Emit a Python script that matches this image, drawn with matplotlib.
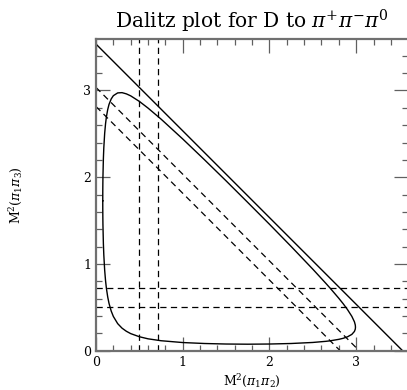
import numpy as np
import matplotlib
matplotlib.use("Agg")
import matplotlib.pyplot as plt

# ----------------------------
# Data
# ----------------------------
# Dalitz boundary: m12^2 and the upper / lower edge of m13^2
m12_sq = [0.0779, 0.0782, 0.079, 0.080, 0.085, 0.090, 0.100, 0.110, 0.120, 0.135,
          0.150, 0.175, 0.200, 0.250, 0.300, 0.350, 0.400, 0.500, 0.600, 0.750,
          1.000, 1.250, 1.500, 1.750, 2.000, 2.250, 2.500, 2.650, 2.700, 2.800,
          2.850, 2.900, 2.950, 2.980, 2.990, 2.992]
m13_hi = [1.728, 1.829, 1.925, 2.000, 2.212, 2.339, 2.506, 2.616, 2.696, 2.780,
          2.839, 2.902, 2.940, 2.972, 2.975, 2.961, 2.938, 2.874, 2.797, 2.670,
          2.441, 2.202, 1.958, 1.709, 1.458, 1.202, 0.940, 0.777, 0.721, 0.604,
          0.542, 0.474, 0.396, 0.333, 0.296, 0.271]
m13_lo = [1.728, 1.627, 1.530, 1.455, 1.238, 1.105, 0.928, 0.808, 0.719, 0.620,
          0.546, 0.458, 0.395, 0.312, 0.260, 0.224, 0.197, 0.161, 0.137, 0.115,
          0.094, 0.083, 0.077, 0.075, 0.077, 0.083, 0.095, 0.108, 0.114, 0.131,
          0.143, 0.160, 0.188, 0.222, 0.249, 0.271]

# m12^2 + m13^2 + m23^2 = const
SUM_M2 = 3.535
# rho band edges (GeV^2), used on all three axes
RHO_CUTS = [0.5, 0.72]

XMAX = 3.6
YMAX = 3.59

# ----------------------------
# Plot
# ----------------------------
plt.rcParams["mathtext.fontset"] = "dejavuserif"
plt.rcParams["font.family"] = "DejaVu Serif"

fig = plt.figure(figsize=(4.07, 3.90), dpi=100)
# right edge runs just past the image, like the reference
ax = fig.add_axes([96 / 407, 39.3 / 390, 312.2 / 407, 311.4 / 390])

# boundary (upper edge then lower edge back)
bx = list(m12_sq) + list(m12_sq[::-1])
by = list(m13_hi) + list(m13_lo[::-1])
ax.plot(bx, by, color="black", lw=1.0)

# kinematic limit m23^2 = 0
ax.plot([0, SUM_M2], [SUM_M2, 0], color="black", lw=1.0)

dash = (0, (5, 3.5))
for c in RHO_CUTS:
    ax.axvline(c, color="black", lw=0.9, linestyle=dash)
    ax.axhline(c, color="black", lw=0.9, linestyle=dash)
    ax.plot([0, SUM_M2 - c], [SUM_M2 - c, 0], color="black", lw=0.9, linestyle=dash)

ax.set_xlim(0, XMAX)
ax.set_ylim(0, YMAX)
ax.set_xticks([0, 1, 2, 3])
ax.set_yticks([0, 1, 2, 3])
ax.set_xticks(np.arange(0, 3.6, 0.2), minor=True)
ax.set_yticks(np.arange(0, 3.6, 0.2), minor=True)
ax.tick_params(which="both", direction="in", top=True, right=True,
               color="#606060", labelsize=9, width=0.9)
ax.tick_params(which="major", length=10)
ax.tick_params(which="minor", length=4.3)
for s in ax.spines.values():
    s.set_color("#707070")
    s.set_linewidth(1.6)

ax.set_title(r"Dalitz plot for D to $\pi^{+}\pi^{-}\pi^{0}$", fontsize=14.5, pad=8)
ax.set_xlabel(r"M$^{2}$($\pi_{1}\pi_{2}$)", fontsize=9, labelpad=3)
ax.set_ylabel(r"M$^{2}$($\pi_{1}\pi_{3}$)", fontsize=9, labelpad=42)

fig.savefig("out.png", dpi=100)
